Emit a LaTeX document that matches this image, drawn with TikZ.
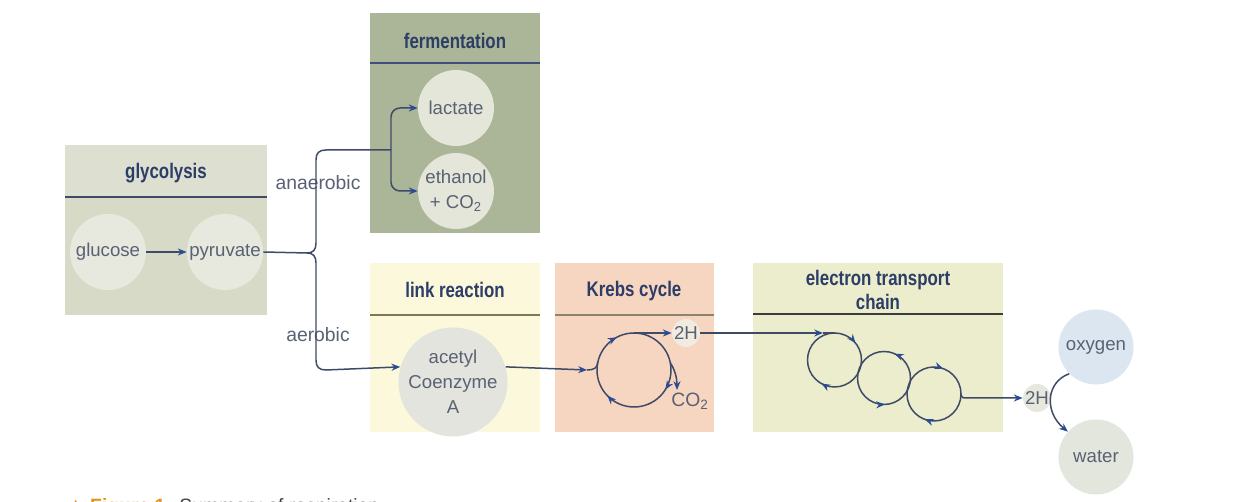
\documentclass[tikz,border=0pt]{standalone}
\usepackage{fontspec}
\setmainfont{Liberation Sans}
\newfontfamily\titlefont[FakeStretch=0.8]{Liberation Sans}
\newfontfamily\symfont{DejaVu Sans}
\usetikzlibrary{arrows.meta,decorations.markings}
\definecolor{glycbg}{HTML}{D6DAC7}
\definecolor{glychead}{HTML}{DDE0D0}
\definecolor{fermbg}{HTML}{AAB697}
\definecolor{linkbg}{HTML}{FBF8DB}
\definecolor{krebsbg}{HTML}{F6D5C1}
\definecolor{etcbg}{HTML}{EBEDCD}
\definecolor{circg}{HTML}{E7E9DE}
\definecolor{circf}{HTML}{E3E6D8}
\definecolor{circa}{HTML}{E3E4DE}
\definecolor{hk}{HTML}{F1ECE0}
\definecolor{he}{HTML}{E6E8DE}
\definecolor{oxyc}{HTML}{DCE6F1}
\definecolor{waterc}{HTML}{E3E6DC}
\definecolor{titlec}{HTML}{2C3D66}
\definecolor{labc}{HTML}{596173}
\definecolor{linec}{HTML}{3F4A66}
\definecolor{tipc}{HTML}{2A4C94}
\definecolor{capor}{HTML}{E8941A}
\definecolor{capc}{HTML}{444444}
\definecolor{hlferm}{HTML}{3E4F7A}
\definecolor{hllink}{HTML}{7C7A55}
\definecolor{hlkrebs}{HTML}{8D8470}
\definecolor{hletc}{HTML}{3A3D3A}
\newcommand\atip{\arrow{Stealth[length=5pt,width=4pt,color=tipc]}}
\newcommand\lblfont{\fontsize{10.6}{14.2}\selectfont}
\newcommand\ttlfont{\titlefont\bfseries\fontsize{12}{13.6}\selectfont}
% arrow tip on a circle: centre, angle, radius (clockwise / counter-clockwise)
\newcommand\cwtip[3]{\draw[conn,arr] ([shift={(#2+10:#3)}]#1) arc[start angle=#2+10,end angle=#2,radius=#3];}
\newcommand\ccwtip[3]{\draw[conn,arr] ([shift={(#2-10:#3)}]#1) arc[start angle=#2-10,end angle=#2,radius=#3];}
\begin{document}
\begin{tikzpicture}[x=0.02cm,y=0.02cm,
  box/.style={rectangle,draw=none,inner sep=0pt,anchor=north west},
  ttl/.style={font=\ttlfont,text=titlec,align=center,inner sep=0pt},
  circ/.style={circle,inner sep=0pt,minimum size=1.52cm,align=center,text=labc,font=\lblfont},
  small/.style={circle,inner sep=0pt,minimum size=0.56cm,text=labc,font=\lblfont},
  lbl/.style={text=labc,font=\fontsize{11}{13}\selectfont,inner sep=0pt},
  conn/.style={draw=linec,line width=0.85pt},
  arr/.style={-{Stealth[length=5pt,width=4pt,color=tipc]}},
  hline/.style={line width=1pt}
]
\useasboundingbox (0,0) rectangle (1252,-502);
\fill[white] (0,0) rectangle (1252,-502);

% boxes
\node[box,fill=glycbg,minimum width=4.04cm,minimum height=3.4cm] (glyc) at (65,-145) {};
\fill[glychead] (65,-145) rectangle (267,-197);
\draw[hline,draw=linec] (65,-197) -- (267,-197);
\node[box,fill=fermbg,minimum width=3.4cm,minimum height=4.4cm] (ferm) at (370,-13) {};
\draw[hline,draw=hlferm] (370,-63) -- (540,-63);
\node[box,fill=linkbg,minimum width=3.4cm,minimum height=3.38cm] (link) at (370,-263) {};
\draw[hline,draw=hllink] (370,-315) -- (540,-315);
\node[box,fill=krebsbg,minimum width=3.18cm,minimum height=3.38cm] (krebs) at (555,-263) {};
\draw[hline,draw=hlkrebs] (555,-315) -- (714,-315);
\node[box,fill=etcbg,minimum width=5.0cm,minimum height=3.38cm] (etc) at (753,-263) {};
\draw[hline,draw=hletc] (753,-314) -- (1003,-314);

% titles
\node[ttl] (tglyc) at (166,-173) {glycolysis};
\node[ttl] (tferm) at (455,-41) {fermentation};
\node[ttl] (tlink) at (455,-290) {link reaction};
\node[ttl] (tkrebs) at (634,-291) {Krebs cycle};
\node[ttl] (tetc) at (878,-290) {electron transport\\chain};

% circles
\node[circ,fill=circg] (glucose) at (108,-252) {glucose};
\node[circ,fill=circg] (pyruvate) at (225,-252) {pyruvate};
\node[circ,fill=circf] (lactate) at (456,-108) {lactate};
\node[circ,fill=circf] (ethanol) at (456,-191) {ethanol\\+ CO\textsubscript{2}};
\node[circ,fill=circa,minimum size=1.76cm] (acetyl) at (453,-382) {acetyl\\Coenzyme\\A};
\node[small,fill=hk] (k2h) at (686,-333) {2H};
\node[small,fill=he] (e2h) at (1037,-398) {2H};
\node[circ,fill=oxyc,minimum size=1.5cm] (oxygen) at (1096,-347) {oxygen};
\node[circ,fill=waterc,minimum size=1.5cm] (water) at (1096,-457) {water};
\node[lbl] (co2) at (690,-401) {CO\textsubscript{2}};

% labels
\node[lbl] (anaer) at (318,-183) {anaerobic};
\node[lbl] (aer) at (318,-335) {aerobic};

% connectors
\draw[conn,arr] (glucose.east) -- (pyruvate.west);
\coordinate (brace) at (307,-253);
\coordinate (fork) at (391,-150);
\draw[conn] (pyruvate.east) -- (brace);
\draw[conn] (brace) .. controls (313,-253) and (316,-250) .. (316,-243) -- (316,-160)
  .. controls (316,-153) and (319,-150) .. (326,-150) -- (fork);
\draw[conn,arr,rounded corners=0.18cm] (fork) |- (lactate.west);
\draw[conn,arr,rounded corners=0.18cm] (fork) |- (ethanol.west);
\draw[conn,arr] (brace) .. controls (313,-253) and (316,-256) .. (316,-263) -- (316,-360)
  .. controls (316,-367) and (319,-370) .. (326,-370) -- (acetyl.164);

% Krebs cycle
\coordinate (kc) at (634,-370);
\coordinate (kin) at (587,-370);
\coordinate (ktop) at (634,-333);
\draw[conn,arr] (acetyl.16) -- (kin);
\draw[conn] (kin) .. controls (594,-370) and (597.5,-368) .. (597.8,-362);
\draw[conn] (kc) circle[radius=37];
\cwtip{kc}{118}{37}
\cwtip{kc}{-32}{37}
\cwtip{kc}{-136}{37}
\draw[conn,arr] (ktop) -- (k2h.west);
\coordinate (kco) at (670.4,-363);
\draw[conn,arr] (kco) .. controls (675,-370) and (677,-378) .. (677,-390);

% ETC
\coordinate (c1) at (834.5,-360);
\coordinate (c2) at (884,-378);
\coordinate (c3) at (934,-394);
\coordinate (c1in) at (823,-333);
\coordinate (c1top) at (834.5,-333);
\draw[conn,arr] (k2h.east) -- (c1in);
\draw[conn] (c1in) -- (c1top);
\draw[conn] (c1) circle[radius=27];
\draw[conn] (c2) circle[radius=26.5];
\draw[conn] (c3) circle[radius=27];
\cwtip{c1}{39}{27}
\cwtip{c1}{-119}{27}
\ccwtip{c2}{66}{26.5}
\ccwtip{c2}{-88}{26.5}
\cwtip{c3}{70}{27}
\cwtip{c3}{-110}{27}
\coordinate (c3e) at (961,-394);
\draw[conn,arr] (c3e) .. controls (962,-398) .. (968,-398) -- (e2h.west);
\draw[conn,arr] (oxygen.225) .. controls (1046,-382) and (1044,-412) .. (water.138);

% caption (cut off at page edge, as in the reference)
\node[anchor=base west,inner sep=0pt,font=\fontsize{11}{13}\selectfont,text=capc] (cap) at (68,-513)
  {{\symfont\color{capor}▲}\hspace{4pt}{\bfseries\color{capor}Figure 1}\hspace{8pt}Summary of respiration};
\end{tikzpicture}
\end{document}
